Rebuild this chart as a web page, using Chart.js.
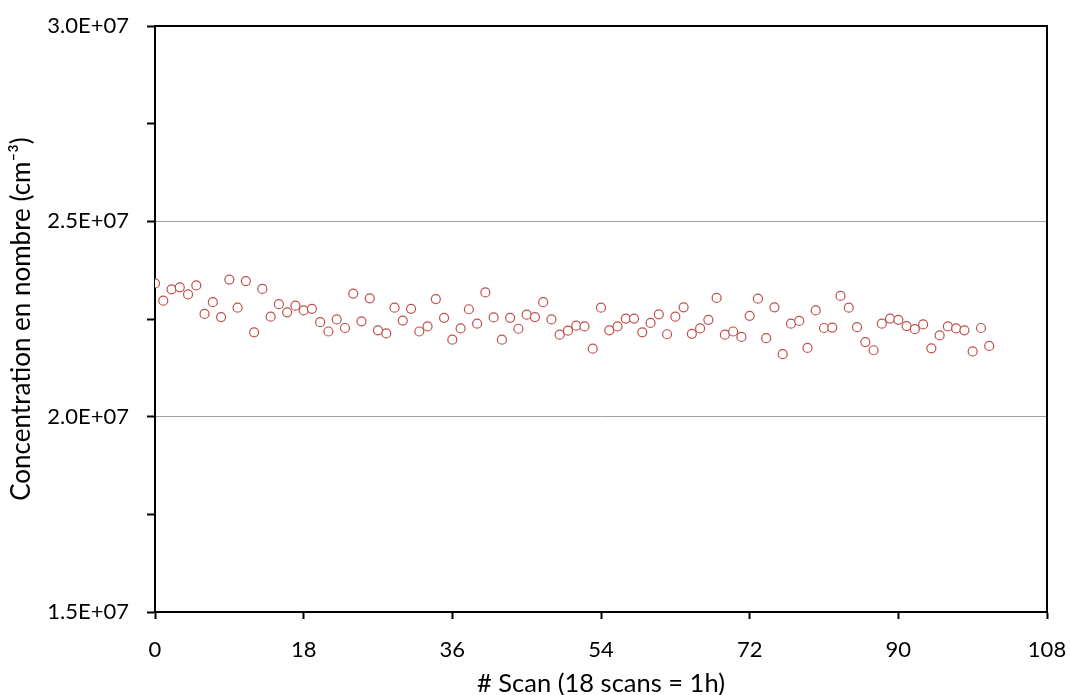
<!DOCTYPE html>
<html>
<head>
<meta charset="utf-8">
<script src="https://cdn.jsdelivr.net/npm/chart.js@4"></script>
<style>
  html, body { margin: 0; padding: 0; background: #fff; }
  #wrap { width: 1070px; height: 695px; }
</style>
</head>
<body>
<div id="wrap"><canvas id="myChart" width="1070" height="695"></canvas></div>
<script>
// n° de scan (0 .. 101)
const scans = [];
for (let i = 0; i <= 101; i++) scans.push(i);

// concentration (en millions de particules / cm3)
const concentrationM = [
    23.41, 22.97, 23.26, 23.31, 23.13, 23.36, 22.63, 22.93, 22.55, 23.51,
    22.79, 23.47, 22.16, 23.27, 22.56, 22.88, 22.67, 22.84, 22.72, 22.76,
    22.42, 22.18, 22.49, 22.27, 23.15, 22.44, 23.03, 22.21, 22.13, 22.79,
    22.46, 22.76, 22.18, 22.31, 23.01, 22.53, 21.97, 22.26, 22.75, 22.38,
    23.18, 22.54, 21.97, 22.53, 22.25, 22.61, 22.55, 22.93, 22.49, 22.10,
    22.20, 22.33, 22.31, 21.74, 22.79, 22.21, 22.31, 22.51, 22.51, 22.16,
    22.40, 22.62, 22.11, 22.56, 22.80, 22.12, 22.26, 22.48, 23.04, 22.10,
    22.18, 22.04, 22.58, 23.02, 22.01, 22.80, 21.60, 22.38, 22.45, 21.76,
    22.72, 22.27, 22.28, 23.09, 22.79, 22.29, 21.91, 21.70, 22.38, 22.51,
    22.48, 22.32, 22.24, 22.36, 21.75, 22.08, 22.31, 22.26, 22.21, 21.67,
    22.27, 21.81
];

// bornes des axes
const xTicks = [0, 18, 36, 54, 72, 90, 108];
const yMin = 1.5e7, yMax = 3.0e7, yStep = 2.5e6;
const yLabelStep = 5e6;
const yGridValues = [2.0e7, 2.5e7];

const points = scans.map((s, i) => ({ x: s, y: concentrationM[i] * 1e6 }));

const fontFamily = 'Lato, "Open Sans", sans-serif';

// cadre autour de la zone du graphique
const framePlugin = {
    id: 'frame',
    afterDraw(chart) {
        const a = chart.chartArea;
        const ctx = chart.ctx;
        ctx.save();
        ctx.strokeStyle = '#000';
        ctx.lineWidth = 2;
        ctx.beginPath();
        ctx.moveTo(a.left, a.top);
        ctx.lineTo(a.right, a.top);
        ctx.lineTo(a.right, a.bottom);
        ctx.stroke();
        ctx.restore();
    }
};

const ctx = document.getElementById('myChart').getContext('2d');
new Chart(ctx, {
    type: 'scatter',
    data: {
        datasets: [{
            label: 'Concentration',
            data: points,
            pointStyle: 'circle',
            pointRadius: 4.5,
            pointBorderWidth: 1.2,
            pointBorderColor: '#C0504D',
            pointBackgroundColor: '#fff'
        }]
    },
    options: {
        responsive: false,
        animation: false,
        layout: { padding: { top: 26, right: 23, left: 0, bottom: 0 } },
        plugins: {
            legend: { display: false },
            tooltip: { enabled: false }
        },
        scales: {
            x: {
                type: 'linear',
                min: 0, max: 108,
                afterFit: s => { s.height = 83; s.paddingLeft = 0; s.paddingRight = 0; },
                afterBuildTicks: s => { s.ticks = xTicks.map(v => ({ value: v })); },
                border: { color: '#000', width: 2 },
                grid: { drawOnChartArea: false, tickLength: 7, tickColor: '#000', tickWidth: 2 },
                ticks: { color: '#000', padding: 18, font: { family: fontFamily, size: 22 } },
                title: {
                    display: true,
                    text: '# Scan (18 scans = 1h)',
                    color: '#000',
                    font: { family: fontFamily, size: 25.5 },
                    padding: { top: 0, bottom: -4 }
                }
            },
            y: {
                min: yMin, max: yMax,
                afterFit: s => { s.width = 155; s.paddingTop = 0; s.paddingBottom = 0; },
                border: { color: '#000', width: 2 },
                grid: {
                    color: c => yGridValues.includes(c.tick && c.tick.value) ? '#a0a0a0' : 'rgba(0,0,0,0)',
                    lineWidth: 1,
                    tickLength: 8,
                    tickColor: '#000',
                    tickWidth: 2
                },
                ticks: {
                    stepSize: yStep,
                    color: '#000',
                    padding: 18,
                    font: { family: fontFamily, size: 22 },
                    callback: v => (v % yLabelStep === 0) ? (v / 1e7).toFixed(1) + 'E+07' : ''
                },
                title: {
                    display: true,
                    text: 'Concentration en nombre (cm⁻³)',
                    color: '#000',
                    font: { family: fontFamily, size: 26 },
                    padding: { top: 6, bottom: 0 }
                }
            }
        }
    },
    plugins: [framePlugin]
});
</script>
</body>
</html>
